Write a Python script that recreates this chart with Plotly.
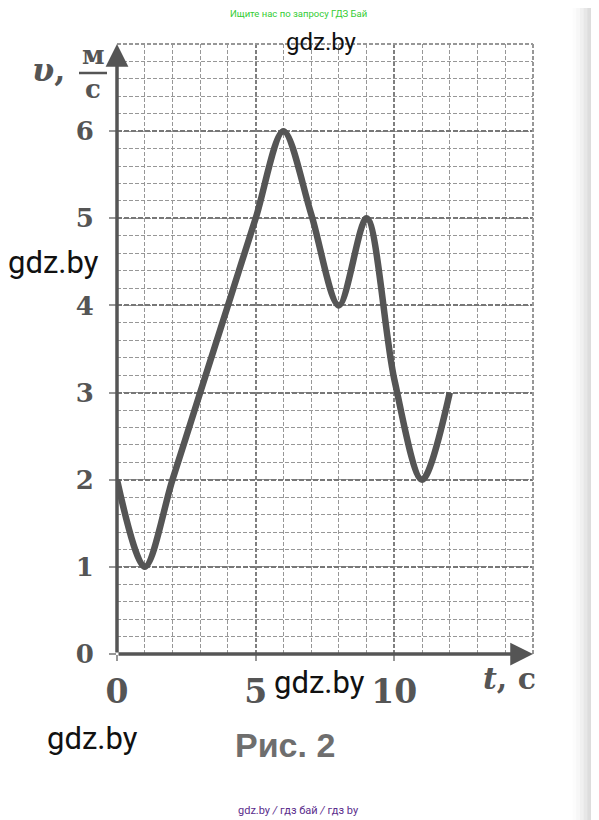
import plotly.graph_objects as go

INK = "#555555"
GRID = "#979797"
SERIF = "DejaVu Serif"
OFF = 8  # the page body margin in the browser

# curve, t in seconds, v in m/s
T_VALUES = [0, 1, 2, 3, 4, 5, 6, 7, 8, 9, 10, 11, 12]
V_VALUES = [2, 1, 2, 3, 4, 5, 6, 5.05, 4, 5, 3.15, 2, 3]

X_TICKS = [0, 5, 10]
Y_TICKS = [0, 1, 2, 3, 4, 5, 6]

fig = go.Figure()

fig.add_trace(go.Scatter(
    x=T_VALUES, y=V_VALUES,
    mode='lines',
    line=dict(color=INK, width=6.5, shape='spline', smoothing=0.9),
    hoverinfo='skip',
    showlegend=False,
))

fig.update_layout(
    width=599 - OFF, height=820 - OFF,
    margin=dict(l=117 - OFF, r=66, t=44 - OFF, b=166),
    paper_bgcolor="white",
    plot_bgcolor="white",
    showlegend=False,
    xaxis=dict(
        range=[0, 15], tickvals=X_TICKS, ticktext=[str(v) for v in X_TICKS],
        showgrid=True, gridcolor="#7f7f7f", gridwidth=1.8, griddash="4px,2px",
        minor=dict(dtick=1, tick0=0, showgrid=True, gridcolor=GRID, gridwidth=1.3, griddash="4px,2px"),
        ticks="outside", ticklen=6, tickwidth=2, tickcolor=GRID,
        tickfont=dict(family=SERIF, size=33, color=INK, weight="bold"),
        ticklabelstandoff=2,
        zeroline=False, showline=False, fixedrange=True, automargin=False,
    ),
    yaxis=dict(
        range=[0, 7], tickvals=Y_TICKS, ticktext=[str(v) for v in Y_TICKS],
        showgrid=True, gridcolor="#777777", gridwidth=2, griddash="5px,2px",
        minor=dict(dtick=0.2, tick0=0, showgrid=True, gridcolor=GRID, gridwidth=1.3, griddash="4px,2px"),
        ticks="outside", ticklen=7, tickwidth=2, tickcolor=GRID,
        tickfont=dict(family=SERIF, size=26, color=INK, weight="bold"),
        ticklabelstandoff=10,
        zeroline=False, showline=False, fixedrange=True, automargin=False,
    ),
)

# frame on the top and right edges of the grid
fig.add_shape(type="line", xref="paper", yref="paper", x0=0, x1=1, y0=1, y1=1,
              line=dict(color=GRID, width=2, dash="4px,2px"))
fig.add_shape(type="line", xref="paper", yref="paper", x0=1, x1=1, y0=0, y1=1,
              line=dict(color=GRID, width=2, dash="4px,2px"))

# page shadow at the right edge of the scan
for i, op in enumerate([0.03, 0.05, 0.08, 0.11, 0.14, 0.18, 0.22]):
    x0 = 1.095 + i * 0.009
    fig.add_shape(type="rect", xref="paper", yref="paper", x0=x0, x1=1.2, y0=-0.3, y1=1.1,
                  fillcolor="#a0a0a0", opacity=op, line_width=0, layer="below")

# axes with arrows
fig.add_annotation(x=0, y=7, ax=0, ay=0, xref="x", yref="y", axref="x", ayref="y",
                   showarrow=True, arrowhead=2, arrowsize=1.3, arrowwidth=3.5,
                   arrowcolor=INK, text="")
fig.add_annotation(x=15, y=0, ax=0, ay=0, xref="x", yref="y", axref="x", ayref="y",
                   showarrow=True, arrowhead=2, arrowsize=1.3, arrowwidth=3.5,
                   arrowcolor=INK, text="")


def page_text(px, py, text, size, color, family):
    # pixel position on the page -> paper coordinates
    fig.add_annotation(
        x=(px - 117) / 416, y=(654 - py) / 610, xref="paper", yref="paper",
        text=text, showarrow=False, xanchor="center", yanchor="middle",
        font=dict(family=family, size=size, color=color),
    )


# axis names
page_text(48, 70, "<b><i>υ</i>,</b>", 32, INK, SERIF)
page_text(93, 55, "<b>м</b>", 26, INK, SERIF)
page_text(93, 89, "<b>с</b>", 26, INK, SERIF)
fig.add_shape(type="line", xref="paper", yref="paper",
              x0=(79 - 117) / 416, x1=(107 - 117) / 416,
              y0=(654 - 73) / 610, y1=(654 - 73) / 610,
              line=dict(color=INK, width=2.5))
page_text(509, 678, "<b><i>t</i>, с</b>", 30, INK, SERIF)

page_text(285, 745, "<b>Рис. 2</b>", 34, "#6e6e6e", "Liberation Sans")

# watermarks
page_text(298, 14, "Ищите нас по запросу ГДЗ Бай", 9.5, "#33cc33", "Roboto")
page_text(321, 42, "gdz.by", 24, "#111111", "Roboto")
page_text(53, 262, "gdz.by", 31, "#111111", "Roboto")
page_text(319, 682, "gdz.by", 31, "#111111", "Roboto")
page_text(92, 738, "gdz.by", 31, "#111111", "Roboto")
page_text(298, 810, "gdz.by <i>/</i> гдз бай <i>/</i> гдз by", 11, "#5b2d8c", "Roboto")

fig.write_html("out.html")
